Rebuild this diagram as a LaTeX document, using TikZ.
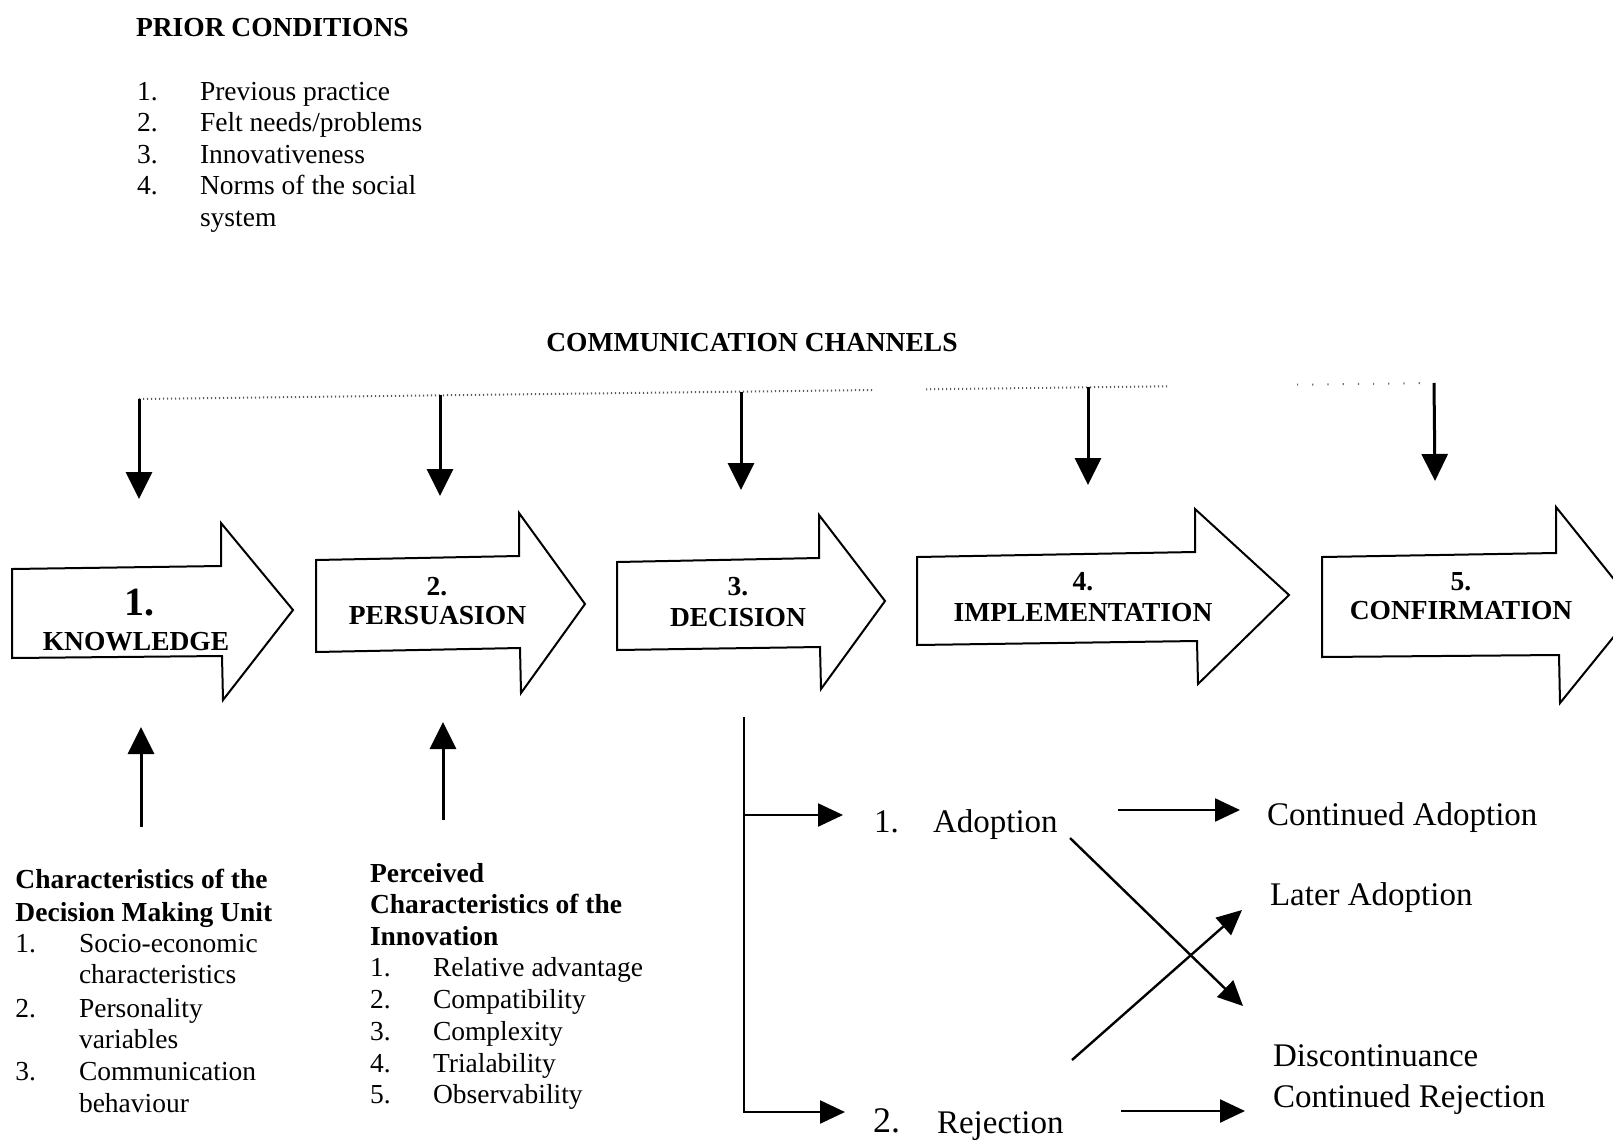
\documentclass[tikz,border=0pt]{standalone}
\usepackage{fontspec}
\setmainfont{Liberation Serif}
\usetikzlibrary{arrows.meta}
\begin{document}
\begin{tikzpicture}[x=1pt,y=-1pt,
  every node/.style={inner sep=0pt, outer sep=0pt},
  txt/.style={anchor=base west, font=\fontsize{27.5}{31.5}\selectfont},
  bold/.style={anchor=base west, font=\fontsize{27.5}{31.5}\selectfont\bfseries},
  stage/.style={draw, line width=2pt, line join=miter, fill=white},
  stagelbl/.style={anchor=base, font=\fontsize{27.5}{31.5}\selectfont\bfseries},
  feed/.style={line width=3pt, -{Triangle[length=27pt,width=26pt]}},
  link/.style={line width=2.4pt, -{Triangle[length=25pt,width=23pt]}},
  outcome/.style={anchor=base west, font=\fontsize{33}{38}\selectfont},
  bar/.style={line width=2pt, black!65, dash pattern=on 1.2pt off 2.8pt},
  sparsebar/.style={line width=2pt, black!55, dash pattern=on 1.2pt off 14pt},
]
\clip (0,0) rectangle (1613,1140);
\fill[white] (0,0) rectangle (1613,1140);

% ---- prior conditions ----
\node[bold] (prior) at (136,36.5) {PRIOR CONDITIONS};
\node[txt] (pn1) at (137,100) {1.};
\node[txt] (pc1) at (200,100) {Previous practice};
\node[txt] (pn2) at (137,131.5) {2.};
\node[txt] (pc2) at (200,131.5) {Felt needs/problems};
\node[txt] (pn3) at (137,163) {3.};
\node[txt] (pc3) at (200,163) {Innovativeness};
\node[txt] (pn4) at (137,194.5) {4.};
\node[txt] (pc4) at (200,194.5) {Norms of the social};
\node[txt] (pc4b) at (200,226) {system};

% ---- communication channels ----
\node[stagelbl] (comm) at (752,351) {COMMUNICATION CHANNELS};
\coordinate (c1) at (139,399);
\coordinate (g1) at (874,390);
\coordinate (g2) at (926,389.3);
\coordinate (g3) at (1167,386.3);
\coordinate (g4) at (1297,384.7);
\coordinate (c5) at (1434,383);
\draw[bar] (c1) -- (g1);
\draw[bar] (g2) -- (g3);
\draw[sparsebar] (g4) -- (c5);
\coordinate (c2) at (440,395.3);
\coordinate (c3) at (741,391.6);
\coordinate (c4) at (1088,387.3);
\coordinate (t1) at (139,499);
\coordinate (t2) at (440,496);
\coordinate (t3) at (741,490);
\coordinate (t4) at (1088,485);
\coordinate (t5) at (1435,481);
\draw[feed] (c1) -- (t1);
\draw[feed] (c2) -- (t2);
\draw[feed] (c3) -- (t3);
\draw[feed] (c4) -- (t4);
\draw[feed] (c5) -- (t5);

% ---- the five stages ----
\draw[stage] (12,569) -- (221,566) -- (221,523) -- (293,610) -- (223,700) -- (222,656) -- (12,658) -- cycle;
\draw[stage] (316,560) -- (519,556) -- (519,513) -- (585,604) -- (521,693) -- (520,648) -- (316,652) -- cycle;
\draw[stage] (617,562) -- (819,558) -- (819,515) -- (885,601) -- (821,689) -- (820,647) -- (617,650) -- cycle;
\draw[stage] (917,557) -- (1195,552) -- (1195,509) -- (1289,595) -- (1198,684) -- (1197,641) -- (917,645) -- cycle;
\draw[stage] (1322,557) -- (1556,553) -- (1556,507) -- (1637,608) -- (1560,703) -- (1559,655) -- (1322,657) -- cycle;

\node[stagelbl, font=\fontsize{40}{44}\selectfont\bfseries] (s1n) at (139,615) {1.};
\node[stagelbl] (s1) at (136,650) {KNOWLEDGE};
\node[stagelbl] (s2n) at (437,595) {2.};
\node[stagelbl] (s2) at (437.5,624) {PERSUASION};
\node[stagelbl] (s3n) at (738,595) {3.};
\node[stagelbl] (s3) at (738,626) {DECISION};
\node[stagelbl] (s4n) at (1083,590) {4.};
\node[stagelbl] (s4) at (1083,621) {IMPLEMENTATION};
\node[stagelbl] (s5n) at (1461,590) {5.};
\node[stagelbl] (s5) at (1461,619) {CONFIRMATION};

% ---- inputs from below ----
\coordinate (u1) at (141,827);
\coordinate (v1) at (141,727);
\coordinate (u2) at (443,820);
\coordinate (v2) at (443,722);
\draw[feed] (u1) -- (v1);
\draw[feed] (u2) -- (v2);

% characteristics of the decision making unit
\node[bold] (dmu1) at (15.5,888) {Characteristics of the};
\node[bold] (dmu2) at (15.5,921) {Decision Making Unit};
\node[txt] (dn1) at (15.5,952) {1.};
\node[txt] (d1) at (79,952) {Socio-economic};
\node[txt] (d1b) at (79,983) {characteristics};
\node[txt] (dn2) at (15.5,1017) {2.};
\node[txt] (d2) at (79,1017) {Personality};
\node[txt] (d2b) at (79,1048) {variables};
\node[txt] (dn3) at (15.5,1080) {3.};
\node[txt] (d3) at (79,1080) {Communication};
\node[txt] (d3b) at (79,1112) {behaviour};

% perceived characteristics of the innovation
\node[bold] (pci1) at (370,882) {Perceived};
\node[bold] (pci2) at (370,913) {Characteristics of the};
\node[bold] (pci3) at (370,945) {Innovation};
\node[txt] (in1) at (370,976) {1.};
\node[txt] (i1) at (433,976) {Relative advantage};
\node[txt] (in2) at (370,1008) {2.};
\node[txt] (i2) at (433,1008) {Compatibility};
\node[txt] (in3) at (370,1040) {3.};
\node[txt] (i3) at (433,1040) {Complexity};
\node[txt] (in4) at (370,1072) {4.};
\node[txt] (i4) at (433,1072) {Trialability};
\node[txt] (in5) at (370,1103) {5.};
\node[txt] (i5) at (433,1103) {Observability};

% ---- decision outcomes ----
\node[outcome] (adn) at (874,832) {1.};
\node[outcome] (adopt) at (933,832) {Adoption};
\node[outcome, font=\fontsize{36}{40}\selectfont] (rjn) at (873,1132) {2.};
\node[outcome] (reject) at (937,1133) {Rejection};
\node[outcome] (contad) at (1267,825) {Continued Adoption};
\node[outcome] (later) at (1270,905) {Later Adoption};
\node[outcome] (discont) at (1273,1066) {Discontinuance};
\node[outcome] (contrej) at (1273,1107) {Continued Rejection};

\coordinate (dtop) at (744,717);
\coordinate (djoin) at (744,815);
\coordinate (adtip) at (843,815);
\coordinate (rjtip) at (845,1112);
\draw[link] (dtop) |- (rjtip);
\draw[link] (djoin) -- (adtip);

\coordinate (a1) at (1118,810);
\coordinate (a2) at (1240,810);
\coordinate (r1) at (1121,1111);
\coordinate (r2) at (1245,1111);
\coordinate (x1) at (1070,838);
\coordinate (x2) at (1243,1006);
\coordinate (y1) at (1072,1060);
\coordinate (y2) at (1242,910);
\draw[link] (a1) -- (a2);
\draw[link] (r1) -- (r2);
\draw[link] (x1) -- (x2);
\draw[link] (y1) -- (y2);
\end{tikzpicture}
\end{document}
